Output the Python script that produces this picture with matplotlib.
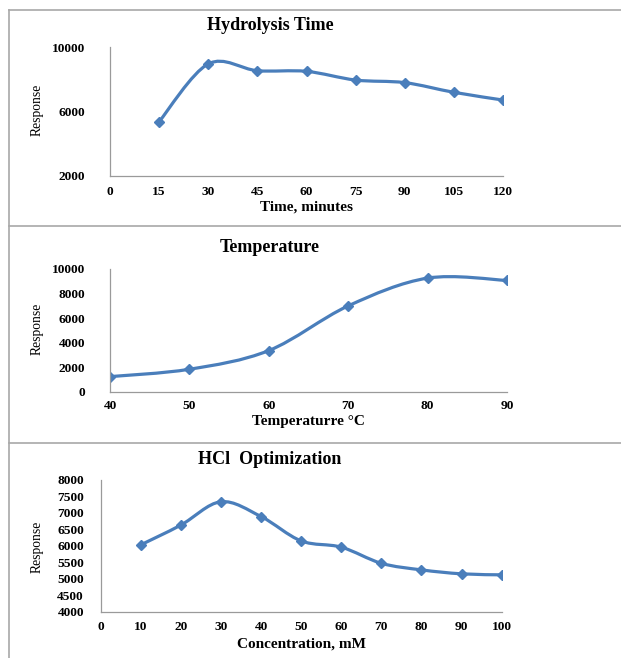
import numpy as np
import matplotlib
matplotlib.use("Agg")
import matplotlib.pyplot as plt
from matplotlib.path import Path
from matplotlib.patches import PathPatch
from matplotlib.lines import Line2D

# hydrolysis time
time_min = [15, 30, 45, 60, 75, 90, 105, 120]
time_resp = [5370, 8950, 8530, 8490, 7950, 7790, 7190, 6710]

# temperature
temp_c = [40, 50, 60, 70, 80, 90]
temp_resp = [1250, 1850, 3370, 7000, 9260, 9070]

# HCl concentration
hcl_mm = [10, 20, 30, 40, 50, 60, 70, 80, 90, 100]
hcl_resp = [6030, 6630, 7340, 6890, 6150, 5960, 5470, 5270, 5150, 5120]

W, H = 621, 658
BLUE = "#4a7ebb"
GRID = "#9a9a9a"
plt.rcParams["font.family"] = ["Liberation Serif", "DejaVu Serif"]


def box(left, right, top, bottom):
    # pixel box -> figure fraction rect
    return [left / W, 1 - bottom / H, (right - left) / W, (bottom - top) / H]


def smooth_path(x, y):
    # Catmull-Rom style bezier segments, like office chart smoothing
    p = np.column_stack([x, y]).astype(float)
    n = len(p)
    verts = [p[0]]
    codes = [Path.MOVETO]
    for i in range(n - 1):
        prev = p[i - 1] if i > 0 else p[i]
        nxt = p[i + 2] if i + 2 < n else p[i + 1]
        c1 = p[i] + (p[i + 1] - prev) / 6
        c2 = p[i + 1] - (nxt - p[i]) / 6
        verts += [c1, c2, p[i + 1]]
        codes += [Path.CURVE4] * 3
    return Path(verts, codes)


def panel(rect, x, y, xlim, ylim, xticks, yticks, title, xlabel,
          title_y, xlabel_y, ylab_y, ypad, xpad):
    ax = fig.add_axes(box(*rect))
    ax.add_patch(PathPatch(smooth_path(x, y), fill=False, edgecolor=BLUE,
                           lw=2.3, capstyle="round", joinstyle="round"))
    ax.plot(x, y, ls="none", marker="D", ms=5, color=BLUE, mec=BLUE)
    ax.set_xlim(*xlim)
    ax.set_ylim(*ylim)
    ax.set_xticks(xticks)
    ax.set_yticks(yticks)
    for s in ("top", "right"):
        ax.spines[s].set_visible(False)
    for s in ("left", "bottom"):
        ax.spines[s].set_color(GRID)
        ax.spines[s].set_linewidth(0.9)
    ax.tick_params(axis="y", length=0, pad=ypad, labelsize=9.6)
    ax.tick_params(axis="x", length=0, pad=xpad, labelsize=9.6)
    for lab in ax.get_xticklabels() + ax.get_yticklabels():
        lab.set_fontweight("bold")
    cx = (rect[0] + rect[1]) / 2
    fig.text(270 / W, 1 - title_y / H, title, ha="center", va="center",
             fontsize=13, fontweight="bold")
    fig.text(cx / W, 1 - xlabel_y / H, xlabel, ha="center", va="center",
             fontsize=11, fontweight="bold")
    fig.text(37 / W, 1 - ylab_y / H, "Response", ha="center", va="center",
             rotation=90, fontsize=9.8)
    return ax


fig = plt.figure(figsize=(W / 100, H / 100), dpi=100)

panel((110, 503, 47, 176), time_min, time_resp, (0, 120), (2000, 10000),
      range(0, 121, 15), [2000, 6000, 10000], "Hydrolysis Time",
      "Time, minutes", 26, 207, 110, 18, 7)

panel((110, 507, 269, 392), temp_c, temp_resp, (40, 90), (0, 10000),
      range(40, 91, 10), range(0, 10001, 2000), "Temperature",
      "Temperaturre \u00b0C", 247, 422, 329, 18, 6)

panel((100.6, 501.7, 480, 611.7), hcl_mm, hcl_resp, (0, 100), (4000, 8000),
      range(0, 101, 10), range(4000, 8001, 500), "HCl  Optimization",
      "Concentration, mM", 460, 644, 547, 12, 7)

# panel frames
frame = dict(color="#a8a8a8", lw=1.2, transform=fig.transFigure)
fig.add_artist(Line2D([9 / W, 9 / W], [1 - 10 / H, 0], **frame))
for yy in (10, 225.7, 443.3):
    fig.add_artist(Line2D([9 / W, 1], [1 - yy / H, 1 - yy / H], **frame))

fig.savefig("out.png", dpi=100, facecolor="white")
